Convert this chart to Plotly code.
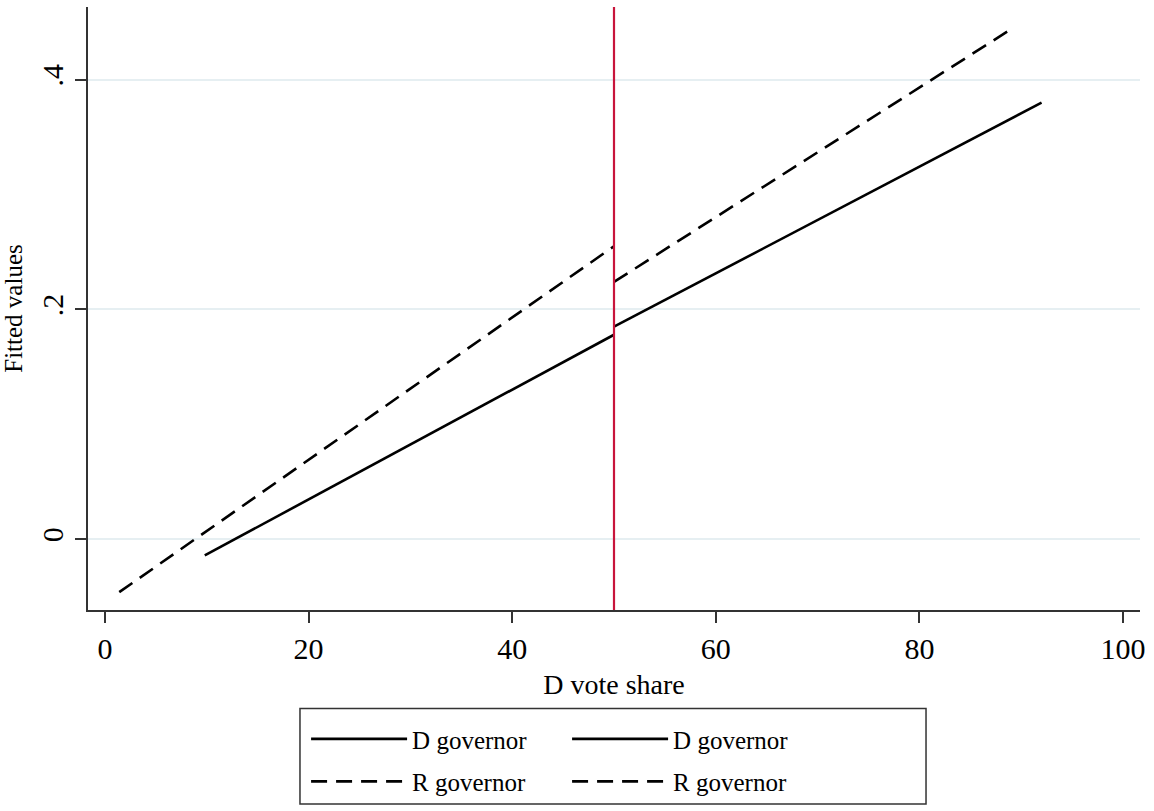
import plotly.graph_objects as go

# Fitted values on each side of the 50% cutoff
d_left_x = [9.8, 50.0]
d_left_y = [-0.014, 0.178]
d_right_x = [50.0, 92.0]
d_right_y = [0.185, 0.380]
r_left_x = [1.4, 50.0]
r_left_y = [-0.046, 0.255]
r_right_x = [50.0, 89.2]
r_right_y = [0.224, 0.445]

cutoff = 50
x_ticks = [0, 20, 40, 60, 80, 100]
y_ticks = [0, 0.2, 0.4]
y_tick_text = ["0", ".2", ".4"]

FONT = "Liberation Serif"
DASH = "16px,9px"

fig = go.Figure()

fig.add_trace(go.Scatter(x=d_left_x, y=d_left_y, mode="lines", name="D governor",
                         line=dict(color="black", width=2.6),
                         legend="legend", legendgroup="dl"))
fig.add_trace(go.Scatter(x=r_left_x, y=r_left_y, mode="lines", name="R governor",
                         line=dict(color="black", width=2.6, dash=DASH),
                         legend="legend", legendgroup="rl"))
fig.add_trace(go.Scatter(x=d_right_x, y=d_right_y, mode="lines", name="D governor",
                         line=dict(color="black", width=2.6),
                         legend="legend2", legendgroup="dr"))
fig.add_trace(go.Scatter(x=r_right_x, y=r_right_y, mode="lines", name="R governor",
                         line=dict(color="black", width=2.6, dash=DASH),
                         legend="legend2", legendgroup="rr"))

# vertical cutoff line
fig.add_shape(type="line", xref="x", yref="paper", x0=cutoff, x1=cutoff, y0=0, y1=1,
              line=dict(color="#c8153c", width=2.2))

# legend frame
fig.add_shape(type="rect", xref="paper", yref="paper",
              x0=0.2015, x1=0.7966, y0=-0.3218, y1=-0.1634,
              line=dict(color="#333333", width=1.5), fillcolor="rgba(0,0,0,0)")

legend_common = dict(font=dict(family=FONT, size=25, color="black"),
                     bgcolor="rgba(0,0,0,0)", borderwidth=0, itemwidth=96,
                     orientation="v", xanchor="left", yanchor="top",
                     tracegroupgap=7)

fig.update_layout(
    width=1154, height=811,
    margin=dict(l=88, r=14, t=7, b=198),
    paper_bgcolor="white", plot_bgcolor="white",
    font=dict(family=FONT, color="black"),
    showlegend=True,
    legend=dict(x=0.2073, y=-0.176, **legend_common),
    legend2=dict(x=0.4554, y=-0.176, **legend_common),
    xaxis=dict(range=[-1.67, 101.67], tickvals=x_ticks,
               showline=True, linecolor="#333333", linewidth=2,
               ticks="outside", ticklen=11, tickwidth=2, tickcolor="#333333",
               tickfont=dict(size=30), showgrid=False, zeroline=False,
               title=dict(text="D vote share", font=dict(size=28), standoff=10)),
    yaxis=dict(range=[-0.0615, 0.4632], tickvals=y_ticks, ticktext=y_tick_text,
               tickangle=-90,
               showline=True, linecolor="#333333", linewidth=2,
               ticks="outside", ticklen=11, tickwidth=2, tickcolor="#333333",
               tickfont=dict(size=30), showgrid=True, gridcolor="#e6eff2",
               gridwidth=2, zeroline=False,
               title=dict(text="Fitted values", font=dict(size=25), standoff=8)),
)

fig.write_html("out.html")
